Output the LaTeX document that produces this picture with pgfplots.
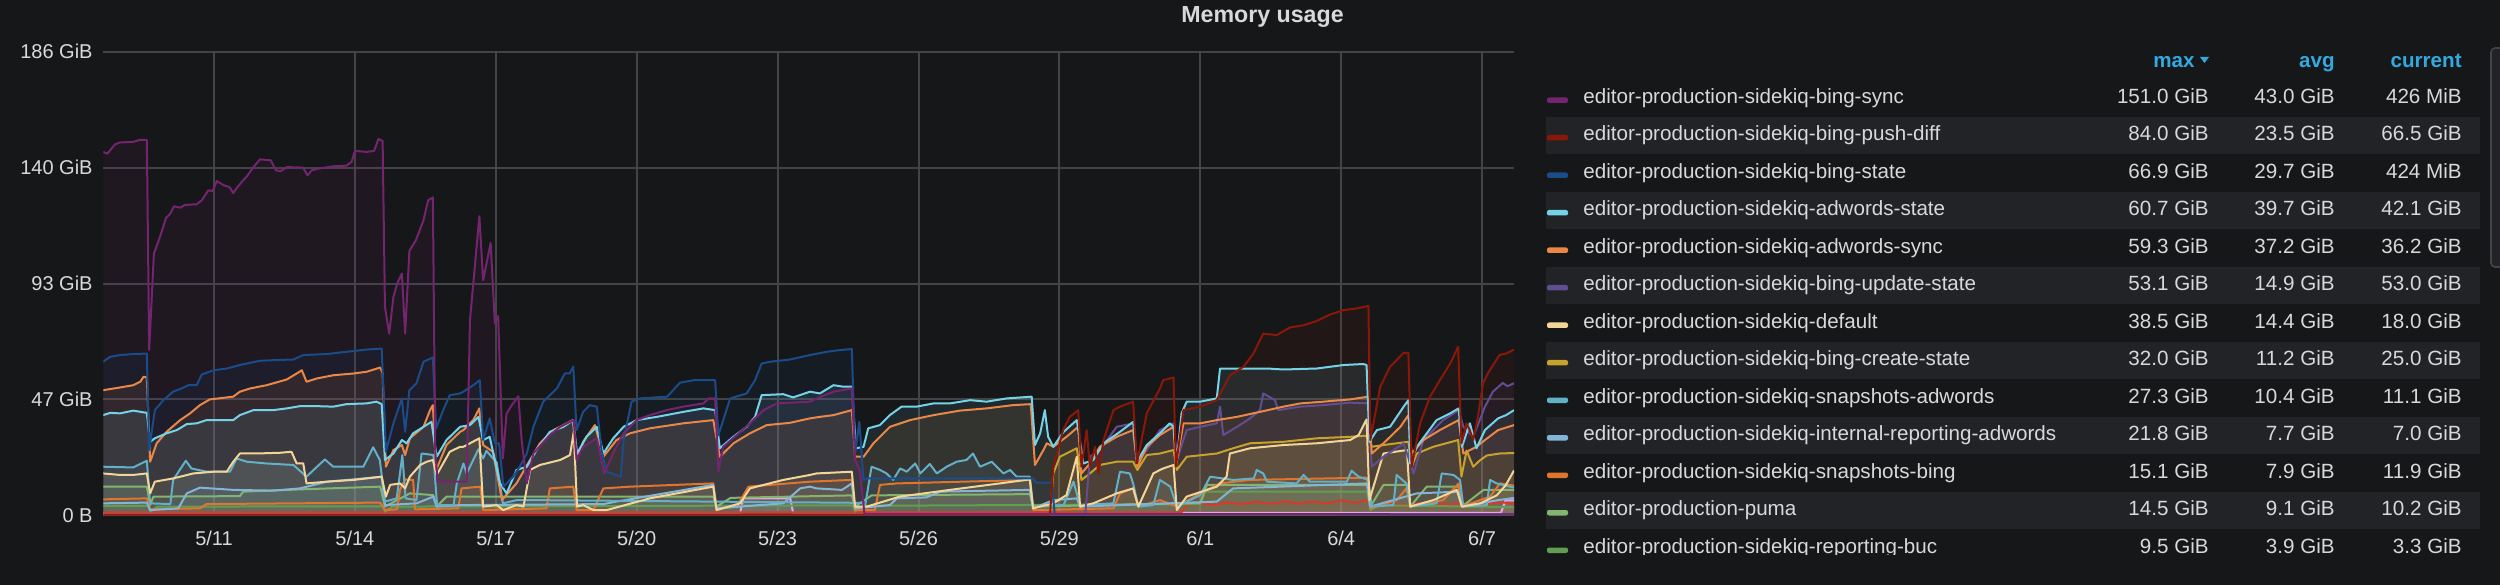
\documentclass[border=0pt]{standalone}
\usepackage{fontspec}
\setmainfont{Liberation Sans}
\usepackage{pgfplots}
\usepackage{pgfplotstable}
\pgfplotsset{compat=1.18}

\definecolor{bg}{HTML}{161719}
\definecolor{stripe}{HTML}{222326}
\definecolor{gridc}{HTML}{434447}
\definecolor{txt}{HTML}{D8D9DA}
\definecolor{hdr}{HTML}{33A9E0}
\definecolor{colA}{HTML}{752470}
\definecolor{colB}{HTML}{8B1708}
\definecolor{colC}{HTML}{1B4C8A}
\definecolor{colD}{HTML}{75D3E8}
\definecolor{colE}{HTML}{EB8848}
\definecolor{colF}{HTML}{614D93}
\definecolor{colG}{HTML}{F4D598}
\definecolor{colH}{HTML}{C9A22C}
\definecolor{colI}{HTML}{64B0C8}
\definecolor{colJ}{HTML}{82B5D8}
\definecolor{colK}{HTML}{E0752D}
\definecolor{colL}{HTML}{84B570}
\definecolor{colM}{HTML}{629E51}
\definecolor{colN}{HTML}{D9392B}
\definecolor{colO}{HTML}{E5A8E2}

% x = days after 5/11, y = GiB
\pgfplotstableread{
d v
-2.36 145.8
-2.27 145.1
-2.11 148.8
-2.0 149.6
-1.72 149.8
-1.59 150.6
-1.43 150.6
-1.38 66.3
-1.28 105
-1.15 111.7
-1.02 119.4
-0.94 120.8
-0.85 124
-0.72 123.4
-0.62 124.5
-0.37 124.8
-0.26 126.4
-0.12 130.4
-0.03 130.1
0.06 134.1
0.21 132.4
0.33 131.7
0.41 129.3
0.50 131.7
0.62 134.4
0.70 136
0.84 139.7
0.98 142.8
1.21 142.4
1.32 138.4
1.42 138.1
1.55 139.7
1.90 139.5
1.99 136.4
2.08 138.4
2.22 139.1
2.54 140
2.82 140.3
2.93 141.8
3.0 146.2
3.25 145.8
3.41 146.2
3.50 151.0
3.59 150.2
3.64 83.6
3.73 72.9
3.82 87.6
3.90 93
4.0 97
4.07 72.9
4.16 106.1
4.30 110.4
4.46 118.4
4.56 126.4
4.66 127.5
4.71 26.2
4.76 13.5
5.38 13.5
5.45 78.3
5.65 120
5.73 94.3
5.89 109.3
5.98 77
6.05 79.9
6.15 22.8
6.23 40.9
6.34 44.2
6.48 47.8
6.55 30.2
6.66 12.8
6.80 24.8
7.15 32.2
7.37 35.5
7.58 37.5
7.66 38.2
7.72 22.2
7.86 27.5
8.15 30.9
8.31 16.8
8.50 25
8.72 32.9
9.0 38.2
9.28 40.2
9.64 42.2
9.99 43.6
10.42 44.9
10.53 46.9
10.67 46.9
10.74 17.5
10.84 27.5
11.13 32.2
11.41 36.9
11.70 42.2
11.98 44.9
12.69 45.6
12.83 46.9
13.19 49.6
13.58 50.9
13.65 22.2
13.75 18.2
13.85 0.5
27.68 0.4
}\Ta

\pgfplotstableread{
d v
-2.36 0.3
17.80 0.3
17.87 19.5
18.08 34.2
18.22 39.5
18.40 42.2
18.47 19.5
18.58 34.2
18.65 19.5
18.76 27.5
18.83 16.8
18.94 30.2
19.15 42.2
19.29 43.6
19.57 45.6
19.65 20.8
19.86 40.9
20.14 50.9
20.21 54.2
20.35 54.9
20.43 55.3
20.48 19.5
20.64 42.2
21.0 43.6
21.35 46.2
21.63 56.2
21.92 59.6
22.13 64.9
22.34 72.9
22.63 72.3
22.91 75.4
23.19 76.2
23.48 78
23.77 80.6
24.05 82.3
24.33 83
24.58 84
24.62 30.2
24.83 51.6
25.04 59.6
25.33 65.2
25.43 65.2
25.50 19.5
25.68 36.9
25.89 47.6
26.10 54.2
26.32 60.9
26.49 67.6
26.56 28.9
26.67 36.9
26.74 34
26.81 30.2
26.91 39.5
27.02 52.9
27.12 56.9
27.37 64.3
27.51 64.9
27.68 66.5
}\Tb

\pgfplotstableread{
d v
-2.36 61.6
-2.21 63.6
-2.0 64.3
-1.72 64.7
-1.43 64.9
-1.38 26.2
-1.26 42.2
-1.08 46.2
-0.87 49.6
-0.69 50.9
-0.55 52.2
-0.37 52.2
-0.26 56.5
-0.01 58.2
0.27 58.9
0.55 60.3
0.98 62.0
1.33 62.3
1.69 62.5
1.90 64.3
2.40 64.7
2.82 65.6
3.25 66.5
3.57 66.9
3.66 25.5
3.82 36.9
4.0 46.9
4.07 33.5
4.16 50.2
4.31 52.9
4.46 61.6
4.66 63.3
4.73 34.9
4.88 42.2
5.02 48.2
5.24 48.9
5.31 49.6
5.52 52.2
5.66 54.2
5.73 30.2
5.87 38.9
5.98 28.9
6.07 28.9
6.16 11.5
6.37 15.5
6.51 19.5
6.66 24.8
6.80 35.5
7.01 45.6
7.30 50.9
7.47 56.9
7.57 56.9
7.65 59.6
7.72 34.2
7.86 41.5
8.0 44.2
8.15 43.6
8.25 26.2
8.36 17.5
8.66 15.5
8.72 30.2
8.89 45.6
9.07 46.9
9.65 47.6
9.92 53.2
10.21 54.2
10.67 54.2
10.74 32.2
10.99 46.9
11.34 48.9
11.52 54.2
11.66 60.9
11.84 61.6
12.26 62.5
12.69 64.3
13.04 65.6
13.33 66.3
13.58 66.7
13.65 24.8
13.74 37.5
13.83 14.2
13.90 14.8
17.44 14.8
17.50 13.1
17.84 13.1
17.90 0.5
27.68 0.4
}\Tc

\pgfplotstableread{
d v
-2.36 40.2
-2.21 41.1
-2.0 40.9
-1.72 42
-1.43 41.1
-1.36 29.5
-1.26 30.9
-1.01 32.9
-0.79 34.2
-0.58 36.6
-0.37 36.9
-0.16 38.2
0.41 38.2
0.55 40.2
0.84 42.2
1.26 42.2
1.55 42.9
1.83 43.8
2.19 43.8
2.54 43.6
2.82 44.6
3.25 44.9
3.46 45.6
3.57 44.6
3.64 22.2
3.82 24.8
4.0 30.2
4.10 28.9
4.24 32.9
4.46 35.5
4.63 37.5
4.74 23.5
4.95 30.2
5.24 35.5
5.45 36.2
5.63 39.5
5.73 30.2
5.87 31.5
6.09 12.8
6.23 8.8
6.44 18.2
6.66 19.5
6.87 26.2
7.15 33.5
7.44 35.5
7.65 38.2
7.73 24.8
7.93 31.5
8.15 35.5
8.29 24.8
8.50 30.9
8.72 35.5
9.0 38.2
9.43 39.5
9.99 41.5
10.42 42.9
10.67 42.2
10.77 26.9
11.06 31.5
11.34 35.5
11.52 39.5
11.66 48.2
12.12 48.6
12.33 47.3
12.69 49.6
12.90 48.9
13.19 52.2
13.40 51.6
13.58 51.6
13.67 26.9
13.83 27.5
13.93 34.9
14.18 36.2
14.39 40.2
14.64 43.6
14.96 43.6
15.32 44.9
15.67 44.9
16.10 46.2
16.45 45.6
16.88 46.9
17.41 47.6
17.48 28.2
17.59 32.9
17.69 42.2
17.76 31.5
17.87 27.5
18.09 33.5
18.37 38.2
18.51 20.8
18.72 22.2
18.94 28.9
19.29 33.5
19.57 37.5
19.65 21.5
19.86 28.2
20.14 32.9
20.35 36.9
20.43 35.5
20.50 22.2
20.60 40.9
20.71 45.6
21.0 45.6
21.35 46.9
21.42 58.9
22.42 58.9
22.77 58.5
23.48 58.9
24.05 60.3
24.47 60.7
24.54 60.3
24.60 29.5
24.76 34.2
25.04 35.5
25.33 43.6
25.43 46.2
25.47 20.8
25.61 27.5
26.03 38.2
26.32 40.9
26.50 42.9
26.57 27.5
26.74 36.9
26.88 26.9
27.06 34.2
27.34 38.9
27.51 40.2
27.68 42.2
}\Td

\pgfplotstableread{
d v
-2.36 50.2
-2.0 51.3
-1.72 52.2
-1.57 53.6
-1.50 55.6
-1.43 55.3
-1.36 21.5
-1.22 28.9
-1.01 33.5
-0.72 38.2
-0.51 40.9
-0.30 44.2
-0.09 46.5
0.41 47.6
0.55 49.6
0.77 50.9
1.12 52.2
1.55 54.5
1.76 56.9
1.87 58.2
1.97 53.6
2.19 54.9
2.54 56.2
2.97 56.9
3.25 57.6
3.54 59.3
3.59 56.9
3.66 19.5
3.82 26.2
4.0 28.2
4.07 24.2
4.17 30.9
4.46 35.5
4.60 42.2
4.66 44.2
4.73 18.2
4.95 28.2
5.24 33.5
5.31 34.2
5.52 38.2
5.65 42.9
5.73 28.2
5.94 25.5
6.13 6.1
6.44 12.8
6.73 22.2
6.94 28.9
7.23 34.2
7.51 36.9
7.64 38.2
7.72 22.2
7.86 29.5
8.11 36.2
8.29 23.5
8.57 30.2
8.86 32.9
9.28 34.9
9.99 36.9
10.63 38.2
10.77 23.5
11.06 28.9
11.41 32.9
11.77 36.2
12.26 37.1
12.69 38.9
12.90 39.5
13.19 40.2
13.58 42.2
13.65 23.5
13.83 23.5
14.04 28.9
14.39 35.5
14.82 38.2
15.32 40.2
15.88 42
16.45 42.9
17.01 44.2
17.39 44.6
17.48 20.2
17.66 26.2
17.73 28.9
17.87 27.5
18.15 31.5
18.40 35.5
18.47 16.8
18.65 20.8
18.86 27.5
19.22 31.5
19.57 34.2
19.66 19.5
19.86 27.5
20.14 32.2
20.43 35.5
20.48 19.5
20.64 36.9
21.0 36.9
21.35 38.2
21.78 39.5
22.27 41.5
22.77 43.6
23.13 44.9
23.62 45.6
24.19 46.5
24.58 47.6
24.65 24.8
24.90 28.9
25.26 35.5
25.43 40.2
25.50 24.8
25.75 30.2
26.10 34.2
26.50 38.2
26.60 24.8
26.88 27.5
27.06 30.2
27.34 34.2
27.68 36.2
}\Te

\pgfplotstableread{
d v
-2.36 0.3
18.55 0.3
18.65 23.5
18.86 26.2
19.22 35.5
19.57 36.9
19.66 20.8
19.86 26.2
20.14 34.2
20.43 36.9
20.50 22.2
20.71 34.2
21.0 35.5
21.35 36.9
21.42 43.6
21.49 32.2
21.78 35.5
22.06 38.9
22.27 42.2
22.34 48.9
22.59 46.2
22.66 42.2
23.13 43.6
23.62 44.2
24.19 45.2
24.58 44.9
24.65 19.5
24.90 23.5
25.33 28.9
25.54 16.8
25.75 30.2
26.17 38.2
26.50 42.2
26.60 35.5
26.81 31.5
27.06 43.6
27.23 49.6
27.44 53.1
27.54 51.8
27.68 53.0
}\Tf

\pgfplotstableread{
d v
-2.36 16.8
-2.0 16.2
-1.72 16.2
-1.43 16.8
-1.36 8.8
-1.26 13.5
-0.87 14.8
-0.44 16.8
-0.01 17.5
0.27 17.5
0.41 21.5
0.55 24.8
0.91 24.8
1.41 25.1
1.65 25.5
1.76 20.8
1.90 20.8
1.97 12.8
2.40 13.5
2.97 14.2
3.57 15.5
3.66 7.5
3.75 12.2
3.96 12.8
4.07 10.8
4.17 15.5
4.39 20.2
4.53 21.5
4.66 22.2
4.74 16.2
5.02 25.5
5.24 27.5
5.31 27.5
5.65 30.9
5.73 3.5
6.02 4.1
6.16 2.1
6.44 4.1
6.59 3.5
6.73 18.2
6.94 20.2
7.37 22.2
7.58 24.2
7.66 33.5
7.73 3.5
7.86 4.1
8.08 2.1
8.36 2.1
9.28 6.8
10.63 11.5
10.70 2.1
11.2 4.8
11.41 10.8
12.12 14.2
12.69 16.2
12.83 16.8
13.58 17.5
13.65 3.5
13.9 3.5
14.6 7.5
15.67 10.2
16.73 12.8
17.37 14.4
17.44 2.8
17.87 4.8
18.15 8.1
18.37 23.5
18.44 3.5
18.72 4.8
19.22 8.8
19.57 10.8
19.68 3.5
20.0 16.8
20.14 18.2
20.21 18.8
20.43 20.2
20.50 2.1
20.71 7.5
21.35 11.5
21.56 15.5
21.63 24.8
22.06 26.9
22.77 28.2
23.48 28.9
24.19 30.2
24.37 32.2
24.54 38.5
24.60 6.1
24.90 24.8
25.40 26.2
25.47 3.5
25.96 6.1
26.46 10.2
26.57 3.5
26.96 4.8
27.31 8
27.5 12
27.68 18.0
}\Tg

\pgfplotstableread{
d v
-2.36 0.3
17.80 0.3
17.87 16.8
18.01 23.5
18.37 26.9
18.47 14.2
18.65 16.8
18.86 20.2
19.22 21.5
19.57 21.5
19.66 18.2
19.86 24.2
20.14 24.8
20.43 26.2
20.50 18.2
20.71 23.5
21.35 24.8
21.70 26.9
22.06 28.9
22.77 29.5
23.48 30.9
24.19 31.5
24.58 32.0
24.65 27.5
24.90 28.2
25.43 29.5
25.50 19.5
25.61 24.8
25.96 27.5
26.49 30.2
26.56 15.5
26.67 26
26.81 19.5
26.95 22
27.10 24
27.38 24.8
27.68 25.0
}\Th

\pgfplotstableread{
d v
-2.36 19.5
-1.72 19.2
-1.43 21.9
-1.36 4.8
-0.93 4.5
-0.87 14.2
-0.60 21.9
-0.48 18.8
-0.16 17.5
0.34 17.5
0.48 22.8
0.70 21.5
1.12 20.8
1.69 20.2
1.97 15.5
2.12 18.2
2.36 22.4
2.54 19.5
3.18 19.5
3.39 27.3
3.53 22.2
3.64 5.5
3.89 6.8
4.01 24.2
4.08 6.8
4.31 6.1
4.42 24.8
4.67 24.2
4.75 4.1
5.10 4.1
5.17 12.8
5.31 20.8
5.38 16.8
5.63 26.5
5.73 22.8
5.80 25.9
5.91 23.5
6.02 21.2
6.15 4.8
6.44 6.1
6.80 6.1
13.80 5
13.86 3.5
14.0 19.5
14.18 18.2
14.32 16.8
14.46 14.2
14.61 18.8
14.75 17.5
14.93 20.8
15.04 16.8
15.24 20.6
15.39 16.8
15.60 19.5
15.81 21.5
16.02 22.2
16.16 24.8
16.31 19.5
16.56 21.5
16.81 16.8
16.95 18.2
17.09 15.5
17.37 15.5
17.44 3.5
18.09 4.1
18.30 13.5
18.44 4.1
19.15 4.8
19.29 17.5
19.50 16.8
19.57 12.8
19.68 3.5
20.0 4.1
20.14 14.2
20.36 11.5
20.50 3.5
21.0 8.1
21.21 15.5
21.70 14.2
22.14 14.8
22.20 18.2
22.34 16.8
22.42 13.5
23.05 12.8
23.20 16.2
23.33 13.5
24.12 13.5
24.22 17.9
24.37 15.5
24.58 14.2
24.65 3.5
25.11 4.1
25.18 16.2
25.39 12.8
25.47 3.5
26.03 4.8
26.14 16.8
26.39 16.2
26.53 14.2
26.60 3.5
27.10 4.1
27.17 14.2
27.31 12.8
27.68 11.1
}\Ti

\pgfplotstableread{
d v
-2.36 4.8
-1.43 5.1
-1.36 2.1
-0.76 2.8
-0.58 8.8
-0.30 11.1
0.41 10.2
1.26 9.9
1.83 10.8
2.40 13.5
2.97 14.4
3.57 15.5
3.64 4.1
4.31 4.8
4.67 7.5
4.74 3.5
5.24 4.1
8.29 4.5
8.57 5.5
10.63 12.2
10.70 2.8
12.12 4.8
12.48 10.8
12.69 11.5
12.83 10.8
13.37 10.2
13.58 12.8
13.65 2.8
14.39 4.1
14.54 6.8
15.17 7.2
15.46 9.5
17.37 10.2
17.44 2.8
17.87 6.1
18.37 6.8
18.44 3.5
21.35 5.5
21.70 10.8
24.55 12.8
24.62 3.5
25.61 8.8
26.50 9.5
26.57 3.5
27.31 6
27.68 7.0
}\Tj

\pgfplotstableread{
d v
-2.36 6.4
-1.43 6.8
-1.36 2.4
-0.30 2.8
-0.16 4.5
3.54 5.1
3.64 2.1
3.90 2.4
3.96 10.2
4.07 14.4
4.24 14.2
4.28 2.4
5.20 2.8
5.27 10.8
5.67 11.5
5.73 2.1
7.08 2.8
7.15 10.8
7.65 11.5
7.72 2.1
8.08 2.1
8.29 10.8
8.86 11.5
10.63 12.8
10.70 2.8
11.13 3.5
11.38 11.5
12.69 13.5
13.58 14.2
13.65 2.1
14.07 2.1
14.18 12.2
14.54 12.8
17.37 14.2
17.44 2.1
19.15 2.8
19.29 8.8
19.57 10.8
19.68 3.5
20.14 6.1
20.50 3.5
21.14 10.2
21.42 12.8
22.06 14.2
24.55 15.1
24.62 2.8
25.18 6.1
25.39 10.8
25.47 3.5
26.17 6.1
26.50 12.8
26.57 3.5
27.17 7.5
27.38 12.8
27.68 11.9
}\Tk

\pgfplotstableread{
d v
-2.36 11.5
-1.43 11.5
-1.36 4.1
-1.29 7.5
0.55 7.7
0.62 9.5
1.83 10.4
3.54 11.5
3.64 3.5
4.17 8.8
4.67 8.1
4.74 3.5
4.95 7.5
10.63 7.5
10.70 3.5
11.0 7
13.58 8
13.65 3.5
14.0 8
17.37 8.5
17.44 3.5
21.0 5
21.14 12.2
24.55 12.2
24.62 3.5
24.90 12.2
25.40 12.2
25.47 3.5
25.82 11.5
26.50 11.5
26.57 3.5
27.03 10.2
27.68 10.2
}\Tl

\pgfplotstableread{
d v
-2.36 3.8
-1.40 3.8
-1.36 1.5
-1.20 3.5
3.60 3.6
3.64 1.5
3.80 3.5
13.60 4
13.65 1.5
13.80 3.8
21.0 4.5
21.10 9.5
24.55 9.5
24.62 2
24.80 4
27.68 3.3
}\Tm

\pgfplotstableread{
d v
-2.36 1.2
20.60 1.2
20.72 4.2
21.0 4.8
21.3 4.2
21.6 5.2
21.9 4.5
22.2 5.5
22.5 4.6
22.8 5.6
23.1 4.7
23.4 5.5
23.7 4.8
24.0 6
24.3 5
24.55 6.2
24.62 3
25.0 4.5
25.4 4.2
25.8 5
26.2 4.5
26.6 4.6
27.0 4.2
27.4 5.3
27.68 4.5
}\Tn

\pgfplotstableread{
d v
-2.36 0.8
11.20 0.8
11.27 6.8
12.27 6.8
12.33 1
27.40 1
27.50 6
27.68 6
}\To

\newcommand\fillser[2]{\addplot[draw=none, fill=#2, fill opacity=0.1] table {#1} \closedcycle;}
\newcommand\lineser[2]{\addplot[color=#2, line width=1bp, line join=round] table {#1};}

\newcommand\legfont{\fontsize{10.3bp}{12bp}\selectfont}
\newcommand\legrow[6]{%
  \pgfmathsetmacro\rc{98+37.5*(#1-1)}%
  \pgfmathsetmacro\rb{\rc+5.2}%
  \ifodd#1\else\fill[stripe] (1546,\rc-18.75) rectangle (2480,\rc+18.75);\fi
  \fill[color=#2, rounded corners=1bp] (1547,\rc-0.5) rectangle (1568,\rc+5);
  \node[anchor=base west, inner sep=0pt, font=\legfont, text=txt] at (1583,\rb) {#3};
  \node[anchor=base east, inner sep=0pt, font=\legfont, text=txt] at (2209,\rb) {#4};
  \node[anchor=base east, inner sep=0pt, font=\legfont, text=txt] at (2335,\rb) {#5};
  \node[anchor=base east, inner sep=0pt, font=\legfont, text=txt] at (2462,\rb) {#6};
}

\begin{document}
\begin{tikzpicture}
\begin{scope}[x=0.5bp, y=-0.5bp]
\fill[bg] (0,0) rectangle (2500,585);
\end{scope}

\begin{axis}[
  at={(51.65bp,-257.65bp)}, anchor=south west,
  width=705.35bp, height=231.8bp, scale only axis,
  xmin=-2.357, xmax=27.68, ymin=0, ymax=186,
  axis line style={draw=none},
  major tick length=0pt,
  xtick={0,3,...,27},
  xticklabels={\mbox{5/11},\mbox{5/14},\mbox{5/17},\mbox{5/20},\mbox{5/23},\mbox{5/26},\mbox{5/29},\mbox{6/1},\mbox{6/4},\mbox{6/7}},
  ytick={0,46.5,93,139.5,186},
  yticklabels={\mbox{0 B},\mbox{47 GiB},\mbox{93 GiB},\mbox{140 GiB},\mbox{186 GiB}},
  grid=major,
  major grid style={draw=gridc, line width=1bp},
  ticklabel style={font=\fontsize{10bp}{12bp}\selectfont, text=txt, inner sep=0pt},
  yticklabel style={anchor=east, xshift=-5.15bp},
  xticklabel style={anchor=center, yshift=-11.4bp},
]
\fillser{\Ta}{colA}
\fillser{\Tb}{colB}
\fillser{\Tc}{colC}
\fillser{\Td}{colD}
\fillser{\Te}{colE}
\fillser{\Tf}{colF}
\fillser{\Tg}{colG}
\fillser{\Th}{colH}
\fillser{\Ti}{colI}
\fillser{\Tj}{colJ}
\fillser{\Tk}{colK}
\fillser{\Tl}{colL}
\fillser{\Tm}{colM}
\fillser{\Tn}{colN}
\fillser{\To}{colO}
\lineser{\To}{colO}
\lineser{\Tn}{colN}
\lineser{\Tm}{colM}
\lineser{\Tl}{colL}
\lineser{\Tk}{colK}
\lineser{\Tj}{colJ}
\lineser{\Ti}{colI}
\lineser{\Th}{colH}
\lineser{\Tg}{colG}
\lineser{\Tf}{colF}
\lineser{\Te}{colE}
\lineser{\Td}{colD}
\lineser{\Tc}{colC}
\lineser{\Tb}{colB}
\lineser{\Ta}{colA}
\end{axis}

\begin{scope}[x=0.5bp, y=-0.5bp]
\node[anchor=base, inner sep=0pt, font=\bfseries\fontsize{11.6bp}{14bp}\selectfont, text=txt] at (1262.5,22.7) {Memory usage};
% legend table
\node[anchor=base east, inner sep=0pt, font=\bfseries\legfont, text=hdr] at (2195,68) {max};
\fill[hdr] (2200,57) -- (2209,57) -- (2204.5,63) -- cycle;
\node[anchor=base east, inner sep=0pt, font=\bfseries\legfont, text=hdr] at (2335,68) {avg};
\node[anchor=base east, inner sep=0pt, font=\bfseries\legfont, text=hdr] at (2462,68) {current};
\legrow{1}{colA}{editor-production-sidekiq-bing-sync}{151.0 GiB}{43.0 GiB}{426 MiB}
\legrow{2}{colB}{editor-production-sidekiq-bing-push-diff}{84.0 GiB}{23.5 GiB}{66.5 GiB}
\legrow{3}{colC}{editor-production-sidekiq-bing-state}{66.9 GiB}{29.7 GiB}{424 MiB}
\legrow{4}{colD}{editor-production-sidekiq-adwords-state}{60.7 GiB}{39.7 GiB}{42.1 GiB}
\legrow{5}{colE}{editor-production-sidekiq-adwords-sync}{59.3 GiB}{37.2 GiB}{36.2 GiB}
\legrow{6}{colF}{editor-production-sidekiq-bing-update-state}{53.1 GiB}{14.9 GiB}{53.0 GiB}
\legrow{7}{colG}{editor-production-sidekiq-default}{38.5 GiB}{14.4 GiB}{18.0 GiB}
\legrow{8}{colH}{editor-production-sidekiq-bing-create-state}{32.0 GiB}{11.2 GiB}{25.0 GiB}
\legrow{9}{colI}{editor-production-sidekiq-snapshots-adwords}{27.3 GiB}{10.4 GiB}{11.1 GiB}
\legrow{10}{colJ}{editor-production-sidekiq-internal-reporting-adwords}{21.8 GiB}{7.7 GiB}{7.0 GiB}
\legrow{11}{colK}{editor-production-sidekiq-snapshots-bing}{15.1 GiB}{7.9 GiB}{11.9 GiB}
\legrow{12}{colL}{editor-production-puma}{14.5 GiB}{9.1 GiB}{10.2 GiB}
\legrow{13}{colM}{editor-production-sidekiq-reporting-buc}{9.5 GiB}{3.9 GiB}{3.3 GiB}
% legend list is cut off below the last visible row
\fill[bg] (1540,554.5) rectangle (2500,586);
% scrollbar
\draw[draw=gridc, fill=stripe, rounded corners=2bp, line width=0.8bp] (2491,48) rectangle (2510,267);
\pgfresetboundingbox
\path[use as bounding box] (0,0) rectangle (2500,585);
\end{scope}
\end{tikzpicture}
\end{document}
